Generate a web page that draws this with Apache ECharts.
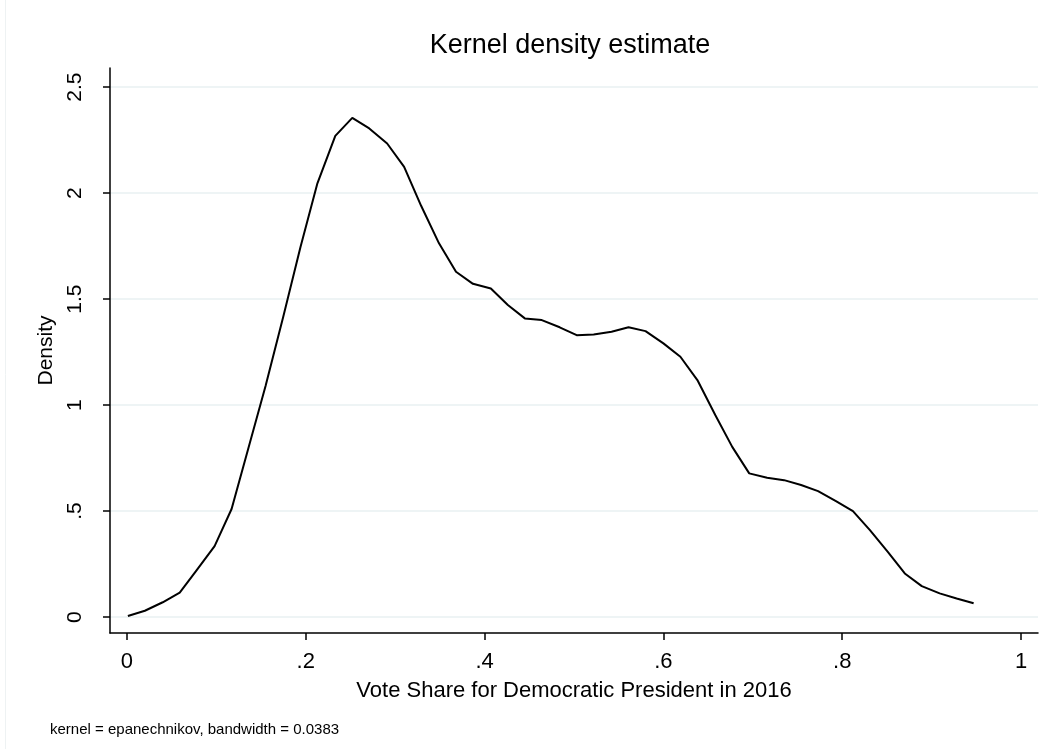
<!DOCTYPE html>
<html>
<head>
    <meta charset="utf-8"/>
    <title>Kernel density estimate</title>
    <script src="https://cdn.jsdelivr.net/npm/echarts@6/dist/echarts.min.js"></script>
    <style>
        html, body { margin: 0; padding: 0; background: #fff; }
        #chart { width: 1047px; height: 749px; }
    </style>
</head>
<body>
<div id="chart"></div>
<script>
    // evaluation points of the density (vote share)
    var xPoints = [0.001, 0.020, 0.040, 0.059, 0.078, 0.098, 0.117, 0.136, 0.155, 0.175,
        0.194, 0.213, 0.233, 0.252, 0.271, 0.291, 0.310, 0.329, 0.349, 0.368,
        0.387, 0.407, 0.426, 0.445, 0.464, 0.484, 0.503, 0.522, 0.542, 0.561,
        0.580, 0.600, 0.619, 0.638, 0.658, 0.677, 0.696, 0.716, 0.735, 0.754,
        0.773, 0.793, 0.812, 0.831, 0.851, 0.870, 0.889, 0.909, 0.928, 0.947];
    // density values
    var density = [0.005, 0.030, 0.070, 0.115, 0.222, 0.335, 0.510, 0.800, 1.090, 1.420,
        1.745, 2.046, 2.270, 2.355, 2.305, 2.234, 2.124, 1.940, 1.763, 1.629,
        1.572, 1.550, 1.472, 1.409, 1.401, 1.367, 1.330, 1.333, 1.346, 1.367,
        1.349, 1.291, 1.228, 1.118, 0.953, 0.803, 0.678, 0.657, 0.646, 0.623,
        0.594, 0.547, 0.500, 0.410, 0.308, 0.206, 0.146, 0.112, 0.088, 0.065];
    // axis ticks
    var xTicks = [0, 0.2, 0.4, 0.6, 0.8, 1];
    var yTicks = [0, 0.5, 1, 1.5, 2, 2.5];

    var fontFam = '"Liberation Sans", Arial, sans-serif';

    // stata style labels: .2 instead of 0.2
    function stataLabel(v) {
        return String(+v.toFixed(2)).replace(/^0\./, '.');
    }

    var chart = echarts.init(document.getElementById('chart'), null, {renderer: 'canvas'});

    var lineData = [];
    for (var i = 0; i < xPoints.length; i++) {
        lineData.push([xPoints[i], density[i]]);
    }

    var option = {
        animation: false,
        backgroundColor: '#fff',
        title: {
            text: 'Kernel density estimate',
            left: 565,
            textAlign: 'center',
            top: 27,
            textStyle: {
                color: '#000',
                fontFamily: fontFam,
                fontWeight: 'normal',
                fontSize: 27
            }
        },
        grid: {
            left: 110,
            right: 9,
            top: 68,
            bottom: 116
        },
        xAxis: {
            type: 'value',
            min: -0.019,
            max: 1.019,
            name: 'Vote Share for Democratic President in 2016',
            nameLocation: 'middle',
            nameGap: 47,
            nameTextStyle: {
                color: '#000',
                fontFamily: fontFam,
                fontSize: 22
            },
            axisLine: {
                onZero: false,
                lineStyle: {color: '#000', width: 1.5}
            },
            axisTick: {
                show: true,
                length: 7,
                customValues: xTicks,
                lineStyle: {color: '#000', width: 1.5}
            },
            axisLabel: {
                customValues: xTicks,
                margin: 18,
                color: '#000',
                fontFamily: fontFam,
                fontSize: 22,
                formatter: stataLabel
            },
            splitLine: {show: false}
        },
        yAxis: {
            type: 'value',
            min: -0.075,
            max: 2.59,
            name: 'Density',
            nameLocation: 'middle',
            nameGap: 52,
            nameRotate: 90,
            nameTextStyle: {
                color: '#000',
                fontFamily: fontFam,
                fontSize: 21
            },
            axisLine: {
                show: true,
                onZero: false,
                lineStyle: {color: '#000', width: 1.5}
            },
            axisTick: {
                show: true,
                length: 7,
                customValues: yTicks,
                lineStyle: {color: '#000', width: 1.5}
            },
            axisLabel: {
                customValues: yTicks,
                rotate: 90,
                margin: 24,
                color: '#000',
                fontFamily: fontFam,
                fontSize: 21,
                formatter: stataLabel
            },
            splitLine: {
                show: true,
                lineStyle: {color: '#e9f0f2', width: 1.5}
            }
        },
        graphic: [{
            type: 'text',
            left: 50,
            top: 722,
            style: {
                text: 'kernel = epanechnikov, bandwidth = 0.0383',
                fill: '#000',
                font: '15px ' + fontFam
            }
        }, {
            type: 'line',
            shape: {x1: 5.5, y1: 0, x2: 5.5, y2: 749},
            style: {stroke: '#eef2f3', lineWidth: 1}
        }],
        series: [{
            name: 'Density',
            type: 'line',
            data: lineData,
            showSymbol: false,
            smooth: false,
            lineStyle: {color: '#000', width: 2}
        }]
    };
    chart.setOption(option);

    window.onresize = function () {
        chart.resize();
    };
</script>
</body>
</html>
